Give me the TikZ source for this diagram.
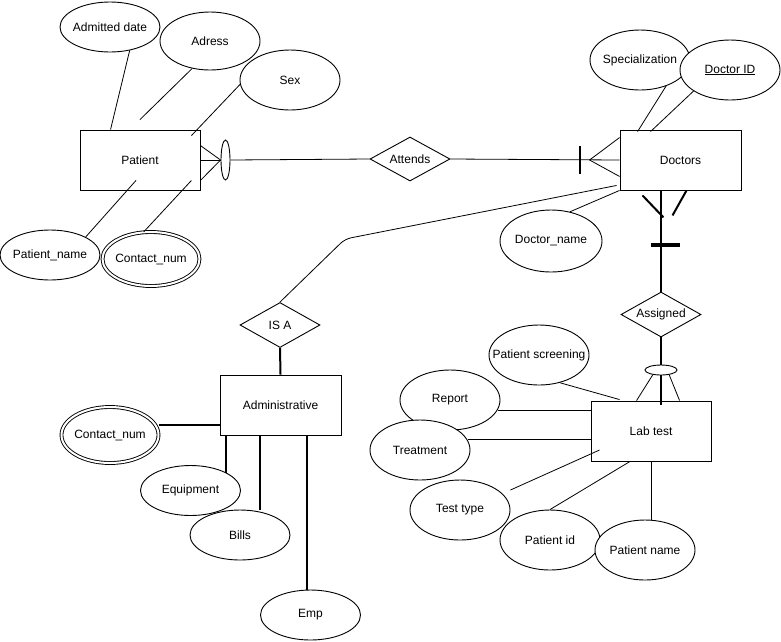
\documentclass[tikz,border=0pt]{standalone}
\usepackage{fontspec}
\setmainfont{Liberation Sans}
\usetikzlibrary{shapes.geometric, calc}

\begin{document}
\begin{tikzpicture}[
    x=1pt, y=-1pt,
    font=\fontsize{12}{14}\selectfont,
    line width=0.9pt,
    ent/.style={draw, fill=white, rectangle, minimum width=120pt,
        minimum height=60pt, inner sep=0pt},
    attr/.style={draw, fill=white, ellipse, minimum width=100pt,
        minimum height=#1, inner xsep=-25pt, inner ysep=0pt},
    attr/.default=60pt,
    mattr/.style={attr=#1, minimum width=97pt, double, double distance=2pt},
    mattr/.default=56pt,
    rel/.style={draw, fill=white, diamond, minimum width=80pt,
        minimum height=44pt, inner xsep=-20pt, inner ysep=0pt},
    ov/.style={draw, fill=white, ellipse, inner sep=0pt},
    lnk/.style={line width=0.8pt},
    thk/.style={line width=2pt},
    bar/.style={line width=4pt},
  ]
  \useasboundingbox (0,0) rectangle (781,641);
  \node[ent] (pat) at (140,160) {Patient};
  \node[attr=50pt] (adt) at (110,27) {Admitted date};
  \node[attr=58pt] (adr) at (210,41) {Adress};
  \node[attr] (sex) at (290,80) {Sex};
  \node[attr=50pt] (pname) at (50,255) {Patient\_name};
  \node[mattr=54pt] (pcon) at (151,259) {Contact\_num};
  \node[ov, minimum width=9pt, minimum height=40pt] (pov) at (225.5,160) {};
  \node[rel] (att) at (410,159) {Attends};
  \node[ent, minimum width=121pt] (doc) at (680.5,160) {Doctors};
  \node[attr] (spec) at (640,60) {Specialization};
  \node[attr] (did) at (730,70) {\underline{Doctor ID}};
  \node[attr=62pt, minimum width=102pt] (dname) at (551,241) {Doctor\_name};
  \node[rel, minimum height=45pt] (asg) at (661,314.5) {Assigned};
  \node[ent] (lab) at (651,431) {Lab test};
  \node[ov, minimum width=32pt, minimum height=10pt] (lov) at (661,370) {};
  \node[attr] (psc) at (539,355) {Patient screening};
  \node[attr] (rep) at (450,400) {Report};
  \node[attr] (trt) at (420,450) {Treatment};
  \node[attr] (tty) at (460,510) {Test type};
  \node[attr] (labpid) at (550,540) {Patient id};
  \node[attr] (labpname) at (645,550) {Patient name};
  \node[rel, minimum height=45pt] (isa) at (280,325) {IS A};
  \node[ent, minimum width=121pt] (admn) at (280.5,405) {Administrative};
  \node[mattr] (acon) at (110,435) {Contact\_num};
  \node[attr=50pt] (equ) at (190.5,490.5) {Equipment};
  \node[attr=50pt] (bil) at (240,535) {Bills};
  \node[attr=50pt] (emp) at (310.5,615) {Emp};

  \draw[lnk] (adt.-50) -- ($(pat.north west)+(31,0)$);
  \draw[lnk] (adr.-123) -- ($(pat.north)+(0,-10)$);
  \draw[lnk] (sex.-175) -- ($(pat.north east)+(-9,6)$);
  \draw[lnk] (pname.north east) -- ($(pat.south)+(-4,-10)$);
  \draw[lnk] (pcon.105) -- ($(pat.south east)+(-9,-10)$);
  \draw[lnk] ($(pat.north east)+(0,16)$) -- (pov.west) -- ($(pat.south east)+(0,-10)$);
  \draw[lnk] (pat.east) -- (pov.west);
  \draw[lnk] (pov.east) -- (att.west);
  \draw[lnk] (att.east) -- (doc.west);
  \draw[thk] ($(doc.west)+(-40,-14)$) -- ($(doc.west)+(-40,14)$);
  \draw[lnk] ($(doc.north west)+(0,8)$) -- ($(doc.west)+(-30,0)$) -- ($(doc.south west)+(0,-14)$);
  \draw[lnk] (spec.-45) -- ($(doc.north west)+(18,2)$);
  \draw[lnk] (did.-150) -- ($(doc.north west)+(31,2)$);
  \draw[lnk] (dname.57) -- (doc.south west);

  \draw[thk] (asg.north) -- (asg.north |- doc.south);
  \draw[thk] ($(doc.south)+(-38,5)$) -- ($(doc.south)+(-17,27)$);
  \draw[thk] ($(doc.south)+(6,0)$) -- ($(doc.south)+(-8,25)$);
  \draw[bar] ($(asg.north)+(-10,-47)$) -- ($(asg.north)+(19,-47)$);
  \draw[thk] (asg.south) -- (lov.north);
  \draw[thk] (lov.south) -- ($(lov.south |- lab.north)+(0,4)$);
  \draw[lnk] (lov.-150) -- ($(lab.north west)+(46,0)$);
  \draw[lnk] (lov.-30) -- ($(lab.north west)+(89,0)$);

  \draw[lnk] (psc.-53) -- ($(lab.north west)+(29,-1)$);
  \draw[lnk] (rep.-12) -- (rep.-12 -| lab.west);
  \draw[lnk] (trt.12) -- (trt.12 -| lab.west);
  \draw[lnk] ($(tty.east)+(0,-20)$) -- ($(lab.west)+(9,19)$);
  \draw[lnk] (labpid.north) -- ($(lab.south)+(-21,0)$);
  \draw[lnk] (lab.south) -- (lab.south |- labpname.north);

  \coordinate (bend) at (345,239);
  \draw[lnk, rounded corners=6pt] (isa.north) -- (bend) -- ($(doc.south west)+(-3,-5)$);
  \draw[thk] (isa.south) -- (admn.north);

  \coordinate (aconline) at ($(acon.east)+(0,-10)$);
  \coordinate (biltop) at ($(bil.north)+(20,0)$);
  \coordinate (emptop) at ($(emp.north)+(-4,0)$);
  \draw[thk] (aconline) -- (aconline -| admn.west);
  \draw[thk] (equ.north east) -- (equ.north east |- admn.south);
  \draw[thk] (biltop) -- (biltop |- admn.south);
  \draw[thk] (emptop) -- (emptop |- admn.south);
\end{tikzpicture}
\end{document}
